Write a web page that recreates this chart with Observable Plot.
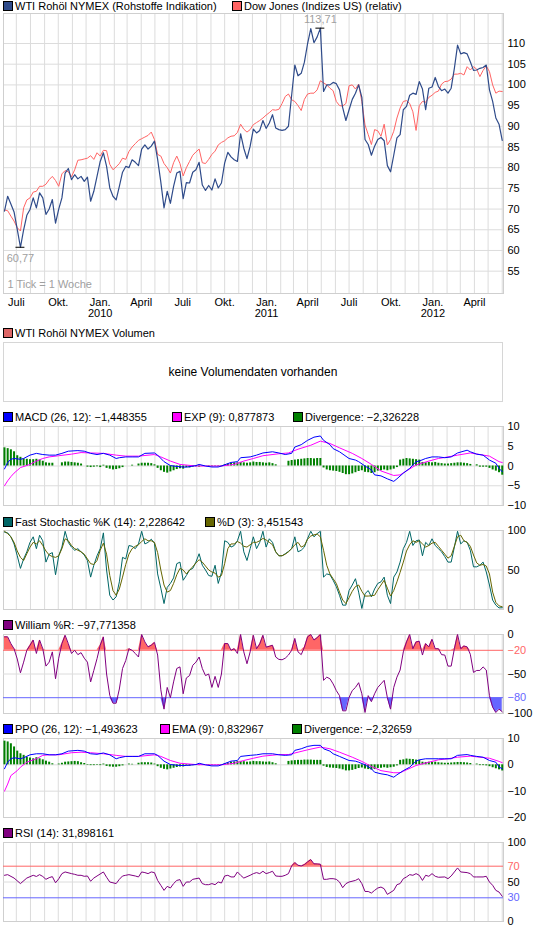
<!DOCTYPE html>
<html><head><meta charset="utf-8">
<script src="https://cdn.jsdelivr.net/npm/d3@7"></script>
<script src="https://cdn.jsdelivr.net/npm/@observablehq/plot@0.6"></script>
<style>
html,body{margin:0;padding:0;background:#fff;font-family:"Liberation Sans",Arial,sans-serif;}
#wrap{position:relative;width:545px;height:930px;overflow:hidden;background:#fff;}
.lg{position:absolute;font-size:11px;line-height:12px;white-space:nowrap;color:#000;}
.sq{position:absolute;width:8px;height:8px;border:1px solid #000;}
svg{overflow:visible}
</style></head><body><div id="wrap"></div>
<script>
// ---------- DATA (weekly, first week = 2009-06-05) ----------
const wti = [
69.5,73.1,71.2,69.3,65.1,60.77,65.0,68.5,69.9,72.7,
70.3,73.9,72.7,68.7,70.0,72.3,66.6,70.0,72.7,78.7,
79.8,77.1,78.3,77.3,77.9,76.7,77.7,71.9,74.3,77.9,
81.5,83.6,80.3,75.1,73.1,72.2,75.5,78.9,80.3,80.0,
81.9,81.3,80.5,84.5,85.5,84.5,85.2,86.4,82.0,76.5,
70.3,74.3,71.4,75.5,78.7,79.1,72.5,76.4,76.3,78.9,
79.5,81.3,75.8,74.5,75.7,74.6,77.3,75.1,76.3,81.1,
83.7,82.6,81.9,81.5,88.2,84.7,82.2,85.2,89.3,88.4,
89.0,91.4,89.5,90.8,92.8,89.6,89.2,89.0,89.2,90.0,
97.5,104.8,102.2,102.8,105.5,110.0,113.6,110.2,111.6,113.71,
98.4,100.0,100.0,100.6,100.3,98.8,94.5,91.4,94.0,96.5,
98.0,100.0,97.0,86.8,85.6,83.0,85.2,86.8,87.3,86.5,
80.5,79.0,83.0,87.2,88.0,94.0,94.8,97.5,98.0,97.7,
100.8,99.0,94.0,99.2,99.5,101.8,99.6,98.6,99.0,98.0,
99.2,104.0,109.6,107.5,107.8,107.5,105.6,103.5,103.6,104.0,
104.2,104.8,98.8,96.0,92.0,90.5,86.6];
const dow = [
69.8,69.6,68.3,67.1,65.5,64.7,70.3,72.2,72.7,74.1,
74.3,75.5,75.5,76.0,77.1,77.9,76.9,75.5,78.5,79.3,
79.0,77.8,79.5,81.8,81.9,82.1,82.3,82.9,82.0,83.6,
82.8,84.2,84.1,80.8,79.5,80.2,81.0,82.3,82.0,83.9,
85.0,85.8,86.6,87.0,87.4,87.8,88.6,86.8,83.2,82.8,
81.0,80.0,78.7,81.2,82.8,81.0,78.0,80.0,81.5,83.0,
83.8,84.5,81.2,81.0,82.0,83.2,84.0,85.5,86.1,86.5,
87.2,87.6,87.7,88.5,90.5,89.3,88.6,89.2,90.4,90.9,
91.4,92.0,92.7,93.3,94.0,93.9,94.1,95.5,97.2,97.8,
96.4,96.0,95.0,93.8,96.5,97.8,98.0,98.0,98.8,101.0,
100.5,100.0,99.2,98.6,96.0,95.0,94.9,95.5,99.8,100.0,
99.0,100.2,96.0,90.3,88.0,85.6,89.2,88.9,87.6,90.5,
85.5,86.8,88.8,92.0,94.4,96.0,96.2,95.5,93.5,89.0,
95.0,96.0,95.8,97.0,97.5,98.2,98.5,100.2,100.8,100.9,
101.4,102.6,102.6,102.8,102.4,104.4,103.6,104.4,103.8,102.0,
103.5,104.6,103.2,100.0,98.0,98.5,98.4];

// MACD line and EXP(9) signal: vertices (week index, value)
const macdW = [0,1,2,3,5,6,8,10,12,14,16,18,20,23,25,27,29,31,33,35,36,38,40,42,44,47,48,50,52,53,55,57,60,61,63,65,67,68,71,73,74,77,79,81,84,86,88,90,91,93,95,97,99,100,102,103,105,108,110,111,113,115,116,118,120,122,123,125,127,129,130,132,134,136,138,140,142,145,146,148,150,152,154,155,156];
const macdV = [-0.75,0.9,1.7,1.9,1.7,1.9,2.75,3.2,2.9,2.75,2.75,3.2,3.75,3.9,3.75,3.2,2.9,3.2,2.75,1.9,2.1,2.3,2.3,2.3,3.2,3.3,2.75,1.1,0.1,0,-0.2,-0.3,0.1,0.4,0,-0.25,-0.25,0,0.9,1.1,2.1,2.3,2.75,3.3,3.6,3.3,2.9,3.2,4.8,5.4,6.5,7.3,7.6,6.5,5.4,4.4,3.6,1.9,1.5,1.1,0,-1.0,-2.25,-2.5,-3.25,-3.9,-3.25,-1.8,-0.6,1.1,1.25,1.9,2.3,2.3,2.1,2.3,3.3,4.0,3.6,3.0,2.75,1.5,0.7,-0.6,-1.45];
const expW = [0,1,2,3,5,8,10,12,14,17,21,24,27,31,35,38,42,47,49,52,55,60,64,68,72,75,78,81,86,89,92,96,99,102,105,109,112,115,118,122,124,126,129,133,136,139,142,146,149,152,155,156];
const expV = [-5.0,-3.75,-2.7,-1.8,-0.4,0.4,1.25,1.9,2.3,2.6,3.0,3.4,3.3,3.2,2.75,2.5,2.5,2.9,2.3,1.25,0.4,0,0,0,0.4,1.25,1.9,2.6,3.1,3.3,4.25,5.25,6.3,5.7,4.6,3.2,1.9,0.4,-1.25,-2.4,-2.25,-1.25,0.25,1.25,1.9,2.3,2.75,3.3,2.9,2.5,1.1,0.88];
const macdDiv = [
4.6,4.4,4.1,3.6,2.6,2.2,1.8,1.7,1.6,1.6,
1.7,1.5,1.2,0.8,0.7,0.7,0,0,0.8,1.0,
1.0,0.9,0.8,0.7,0.5,0,-0.3,-0.4,-0.3,-0.2,
-0.4,0.2,-0.6,-0.8,-1.0,-0.9,-0.7,-0.4,0,0,
0.2,0,0.5,0.7,0.7,0.7,0.6,0.3,-0.6,-1.2,
-1.6,-1.8,-1.5,-1.2,-0.9,-0.7,-0.8,-0.4,-0.5,-0.3,
-0.2,-0.3,-0.1,0,-0.2,-0.2,-0.1,-0.2,-0.2,0.3,
0.5,0.7,0.8,0.8,0.9,0.8,0.7,0.8,1.0,0.9,
0.9,0.8,0.7,0.8,0.6,0.3,0,0,0,1.2,
1.4,1.5,1.6,1.7,1.8,1.9,1.9,1.8,1.9,1.9,
-0.5,-1.0,-1.2,-1.3,-1.4,-1.6,-1.9,-2.2,-2.2,-2.0,
-1.7,-1.4,-1.2,-1.6,-1.7,-1.9,-1.7,-1.3,-1.2,-1.0,
-1.2,-1.0,-0.8,-0.4,1.5,1.7,1.9,1.8,1.7,1.6,
1.5,0.9,0.8,0.9,0.8,0.9,0.7,0.6,0.5,0.5,
0.6,0.7,0.8,0.8,0.7,0.6,0.4,0,0.3,-0.3,
-0.3,-0.3,-0.6,-1.0,-1.3,-1.7,-2.33];

// Fast Stochastic %K(14) and %D(3), weekly
const stochK = [
98,97,92,83,68,52,64,73,85,92,
77,94,87,60,70,72,44,68,79,99,
85,79,75,77,73,69,62,41,56,68,
77,97,50,18,12,16,35,66,64,81,
80,77,83,99,83,85,89,84,45,27,
7.5,28,33,40,58,60,37,43,50,52,
60,70.6,56,50,43,42,56,33,47,87,
85,79,81,87,99,73,62,77,92,77,
85,99,79,89.5,85,73,68,68,70.6,73.5,
77,92,73,75,79,90,99,92,96,99,
41,45,44,37,29,18,5.5,5.5,24,31,
39,22,1.3,20,24,16,26,33,35,41,
18,7.5,41,47.5,60,77,85,99,81,87,
88,68,85,81,89.5,81,77,73,67,60,
60,79,99,83,87,85,75,54,54,56,
60,47.5,31,12,5.5,2,2.23];
const stochD = [
99,96,92,85,74,66,62,70.6,79,85,
83,87,81,74,69,67,66,68,77,89.5,
87,81,77,75,73,70,64,58,57,62,
75,84,70,43,24,18,26,41,57,70,
77,80,82,86,89.5,87,87,85,72,50,
31,22,24,33,44,52,50,45,50,54,
59,63,60,55,50,47.5,46,41,43,58,
77,83,83,86,84,80,79,82,85,85,
87,90,88,85,82,73,68,68,70,73,
77,82,85,79,81,89,93,94.5,95.5,92,
75,56,45,39,33,22,12,7.5,15,23,
29,31,23,17,17,17.5,18,25,31,37,
27,17,24,35,47,60,74,82,87,85,
87,83,79,81,84,85,80,75,70,65,
68,80,92,94,87,85,80,69,59,56,
57,55,45,22,9,4.6,3.45];

// William %R, weekly
const willR = [
-3,-3,-11.5,-18,-31,-48.5,-35,-20,-13.6,-7,
-24,-7,-18,-40,-35,-22,-56,-30,-11.5,-1,
-11.5,-24,-20,-25.5,-23,-30,-35,-60,-45.5,-30.6,
-13.6,-3,-50,-77,-87,-87,-69,-43,-33,-18,
-20,-24,-28.5,0,-9.4,-15.7,-13.6,-10,-26,-70,
-94.5,-67,-80,-60,-43,-41,-75,-55,-52,-39,
-35,-28.5,-43,-52,-50,-67,-53,-67,-50,-11.5,
-11.5,-20,-18,-24,0,-22,-37,-22,-1,-18,
-12,-1,-16,-15,-13.6,-28.5,-31.5,-32,-30,-26,
-20,-5,-22,-25.5,-16,-3,0,-7,-4,0,
-58,-54,-56,-62.5,-71,-77.4,-96.6,-96.6,-79.6,-71,
-67,-61,-75,-98.7,-77.4,-85,-75,-67,-62.5,-58,
-80,-94.5,-67,-54,-45,-22,-9.4,0,-18,-9.4,
-8.5,-26,-11.5,-15.7,-6,-18,-18,-25.5,-26,-40,
-40,-18,0,-18,-14.5,-15.7,-25,-48,-45.5,-45.5,
-41,-45,-77.4,-92,-98.7,-94.5,-97.77];

// PPO line and EMA(9): vertices (week index, value)
const ppoW = [0,1,2,3,5,6,8,10,12,14,16,18,20,23,25,27,29,31,33,35,36,38,40,42,44,47,48,50,52,53,55,57,60,61,63,65,67,68,71,73,74,77,79,81,84,86,88,90,91,93,95,97,99,100,102,103,105,108,110,111,113,115,116,118,120,122,123,125,127,129,130,132,134,136,138,140,142,145,146,148,150,152,154,155,156];
const ppoV = [-1.5,1.0,2.3,2.7,2.3,2.7,3.8,4.2,4.2,3.8,3.8,4.2,5.2,5.5,5.2,4.2,4.0,4.5,3.8,2.3,2.7,3.2,3.2,3.2,4.2,4.2,3.6,1.4,0.1,0,-0.25,-0.25,0.1,0.6,0,-0.4,-0.4,0,1.4,1.65,3.2,3.6,3.8,4.2,4.2,3.8,3.6,3.8,5.5,6.1,7.0,7.4,7.4,6.1,5.2,4.2,3.2,1.65,1.4,1.0,0,-1.5,-2.8,-3.4,-3.8,-4.7,-3.8,-2.2,-0.9,1.4,1.9,2.3,2.3,2.3,2.3,2.3,3.6,3.9,3.6,3.2,2.9,1.65,1.0,-0.8,-1.49];
const emaW = [0,1,2,4,5,7,10,12,14,17,21,24,27,31,35,38,42,47,49,52,55,60,64,68,72,75,78,81,86,89,92,95,99,102,105,109,112,115,118,122,124,126,129,133,136,139,142,146,149,152,155,156];
const emaV = [-10,-7.3,-4.1,-2.2,-0.9,1.0,2.3,3.6,3.8,3.8,4.6,4.8,4.6,4.2,3.6,3.2,3.2,3.8,3.2,1.65,0.6,0.1,0,0,0.6,1.65,2.5,3.3,3.9,3.9,4.8,5.7,6.75,6.1,4.8,2.9,1.3,-0.6,-2.2,-3.0,-3.0,-1.9,-0.25,1.0,1.9,2.3,2.9,3.3,2.9,2.5,1.3,0.83];
const ppoDiv = [
9.0,8.7,8.0,6.8,5.2,4.2,3.6,2.9,2.6,2.3,
2.7,2.3,1.9,1.4,1.0,0.4,0,0.3,0.6,1.0,
1.1,1.2,1.3,1.2,0.8,0.5,-0.2,-0.3,-0.3,-0.2,
-0.3,0.3,-0.6,-0.8,-0.9,-0.9,-0.7,-0.4,0,0.3,
0.2,0,0.6,0.8,0.8,0.8,0.7,0.3,-0.7,-1.3,
-1.7,-1.9,-1.6,-1.3,-1.0,-0.8,-0.8,-0.4,-0.5,-0.3,
-0.2,-0.3,-0.1,0,-0.2,-0.2,-0.1,-0.2,-0.2,0.4,
0.7,1.0,1.1,1.2,1.3,1.2,1.0,1.1,1.3,1.2,
1.2,1.1,1.0,1.1,0.8,0.4,0,0,0,1.3,
1.5,1.6,1.7,1.7,1.8,1.8,1.8,1.7,1.7,1.7,
-0.5,-1.0,-1.2,-1.3,-1.4,-1.6,-1.9,-2.3,-2.3,-2.1,
-1.8,-1.4,-1.2,-1.6,-1.8,-2.0,-1.8,-1.4,-1.3,-1.1,
-1.3,-1.1,-0.9,-0.4,1.7,1.9,2.2,2.1,2.0,1.8,
1.7,1.0,0.9,1.0,0.9,1.0,0.8,0.7,0.6,0.6,
0.7,0.8,0.9,0.9,0.8,0.7,0.5,0,0.3,-0.3,
-0.3,-0.4,-0.7,-1.1,-1.5,-1.9,-2.33];

// RSI(14): vertices (week index, value)
const rsiW = [0,1,3,5,7,9,10,11,12,13,14,15,16,17,18,19,21,22,23,24,25,26,27,28,29,31,32,33,35,36,37,38,39,41,42,43,44,45,46,47,48,49,50,51,52,53,54,55,56,57,58,59,61,62,63,64,65,66,67,68,69,70,71,72,73,74,75,77,78,79,80,81,82,83,84,85,86,87,88,89,90,91,92,93,94,95,96,97,98,99,100,101,102,103,104,105,106,107,108,110,111,112,113,114,115,116,117,118,119,120,122,123,124,125,126,127,128,129,130,131,132,133,134,135,136,138,139,140,141,142,143,145,146,147,148,150,151,152,153,154,155,156];
const rsiV = [58.5,59.3,55,48,55,58.5,57,59.3,57,53.4,55.5,56.8,49,54,60.6,62.7,60.6,59.7,58.5,58.5,57.2,57.6,51,55,57.6,62.7,56,50,48,53.4,57.6,58.5,59.3,57.6,56.4,62.7,61.9,60.6,62.7,61.9,52,45.8,39.4,44.5,42.4,48,52,53,44.5,50,50,53.4,55,48,46.6,46.6,48,46.6,50,48.7,57.6,58.5,56.4,56.4,62.7,58.5,55,58.5,60.6,61.9,60.6,63.6,60.6,61.9,63.6,57.6,57.2,57.2,58.5,60.6,70.3,74.6,71.2,70.3,72,75.4,78.4,73,72.9,72.5,53.4,53.4,54.2,54.2,53.4,50,42.8,47.9,50,52,54.2,48,38,38,36,39.4,42.4,43.6,41.5,34.3,39.4,46.6,48,54.2,56.4,59.3,58.5,60.6,58.5,52,58.5,57.2,60.6,57.2,56,56.4,54.2,57.6,62.7,67.8,62.7,61.9,60.6,56.4,56.4,56.4,57.2,50,45.8,39.4,37.3,31.9];

// Axis ticks / labels
const priceTicks = [55,60,65,70,75,80,85,90,95,100,105,110];
const quarterDates = ["2009-07-01","2009-10-01","2010-01-01","2010-04-01","2010-07-01","2010-10-01","2011-01-01","2011-04-01","2011-07-01","2011-10-01","2012-01-01","2012-04-01"];
const quarterLabels = ["Juli","Okt.","Jan.\n2010","April","Juli","Okt.","Jan.\n2011","April","Juli","Okt.","Jan.\n2012","April"];
const macdTicks = [10,5,0,-5,-10];
const stochTicks = [100,50,0];
const willTicks = [0,-20,-50,-80,-100];
const ppoTicks = [10,0,-10,-20];
const rsiTicks = [100,70,50,30,0];

// ---------- helpers ----------
const START = Date.UTC(2009,5,5);
const wk = w => new Date(START + w*7*864e5);
const xDomain = [wk(-0.31), wk(156.4)];
const months = d3.utcMonth.range(new Date(Date.UTC(2009,6,1)), new Date(Date.UTC(2012,5,2)));
const GRID = "#dcdcdc", FRAME = "#cfcfcf";
const FONT = "Liberation Sans, Arial, sans-serif";
const RED = "#ff6666", BLUE = "#6666ff";
const fmt = d => d < 0 ? "\u2212" + Math.abs(d) : String(d);
const wrap = document.getElementById("wrap");

const weekly = (arr) => arr.map((v,i)=>({date: wk(i), v}));
const pairs = (W,V) => W.map((w,i)=>({date: wk(w), v: V[i]}));

function legend(cy, items){
  for (const it of items){
    const s = document.createElement("div");
    s.className = "sq"; s.style.left = it.x+"px"; s.style.top = (cy-5)+"px"; s.style.background = it.color;
    wrap.append(s);
    const t = document.createElement("div");
    t.className = "lg"; t.style.left = (it.x+12)+"px"; t.style.top = (cy-6.5)+"px"; t.textContent = it.label;
    wrap.append(t);
  }
}

function yLabels(ticks, colorOf){
  return Plot.text(ticks, {y: d=>d, frameAnchor:"right", textAnchor:"start", dx:4, text: fmt,
    fill: colorOf || "#000", fontSize: 11});
}

function panel(top, frameH, yDomain, marks, mb=8){
  const svg = Plot.plot({
    width:545, height:1+frameH+mb, marginTop:1, marginBottom:mb, marginLeft:3, marginRight:42,
    x:{type:"utc", domain:xDomain, axis:null},
    y:{domain:yDomain, axis:null},
    style:{fontFamily:FONT, fontSize:"11px", background:"transparent", overflow:"visible"},
    marks:[Plot.ruleX(months,{stroke:GRID}), Plot.frame({stroke:FRAME}), ...marks]
  });
  svg.style.position="absolute"; svg.style.left="0px"; svg.style.top=(top-1)+"px";
  wrap.append(svg);
}

// ---------- price panel ----------
legend(6, [
  {x:3, color:"#2f4b8a", label:"WTI Rohöl NYMEX (Rohstoffe Indikation)"},
  {x:232, color:"#ff6464", label:"Dow Jones (Indizes US) (relativ)"}
]);
const priceRows = wti.map((v,i)=>({date: wk(i), wti: v, dow: dow[i]}));
const iMax = d3.maxIndex(wti), iMin = d3.minIndex(wti);
const comma = v => v.toFixed(2).replace(".", ",");
panel(13, 280, [49.6, 117.25], [
  Plot.ruleY(priceTicks, {stroke:GRID}),
  Plot.frame({stroke:FRAME}),
  yLabels(priceTicks),
  Plot.text(quarterDates, {x: d=>new Date(d+"T00:00:00Z"), text: (d,i)=>quarterLabels[i], frameAnchor:"bottom",
    lineAnchor:"top", dy:4, lineHeight:1.05, fontSize:11, fill:"#000"}),
  Plot.text(["1 Tick = 1 Woche"], {text:d=>d, frameAnchor:"bottom-left", textAnchor:"start", dx:4, dy:-6, fill:"#a0a0a0", fontSize:11}),
  Plot.line(priceRows, {x:"date", y:"dow", stroke:"#ff6464", strokeWidth:1}),
  Plot.line(priceRows, {x:"date", y:"wti", stroke:"#2f4b8a", strokeWidth:1.2}),
  Plot.ruleY([wti[iMax]], {x1: wk(iMax-1.4), x2: wk(iMax+1.4), stroke:"#000"}),
  Plot.ruleY([wti[iMin]], {x1: wk(iMin-1.4), x2: wk(iMin+1.4), stroke:"#000"}),
  Plot.text([iMax], {x: i=>wk(i), y: i=>wti[i], text: i=>comma(wti[i]), dy:-9, fill:"#a0a0a0", fontSize:11}),
  Plot.text([iMin], {x: i=>wk(i), y: i=>wti[i], text: i=>comma(wti[i]), dy:11, fill:"#a0a0a0", fontSize:11})
], 33);

// ---------- volume panel ----------
legend(333, [{x:3, color:"#dd6666", label:"WTI Rohöl NYMEX Volumen"}]);
const vol = document.createElement("div");
vol.style.cssText = "position:absolute;left:3px;top:342px;width:498px;height:58px;border:1px solid #d6d6d6;font-size:12px;line-height:58px;text-align:center;color:#000;";
vol.textContent = "keine Volumendaten vorhanden";
wrap.append(vol);

// ---------- MACD ----------
legend(417, [
  {x:3, color:"#0000ff", label:"MACD (26, 12): \u22121,448355"},
  {x:172, color:"#ff00ff", label:"EXP (9): 0,877873"},
  {x:293, color:"#008000", label:"Divergence: \u22122,326228"}
]);
panel(426, 79, [-10, 10], [
  Plot.ruleY([5,0,-5], {stroke:GRID}),
  yLabels(macdTicks),
  Plot.ruleX(weekly(macdDiv), {x:"date", y1:0, y2:"v", stroke:"#008000", strokeWidth:2}),
  Plot.line(pairs(expW, expV), {x:"date", y:"v", stroke:"#ff00ff", strokeWidth:1}),
  Plot.line(pairs(macdW, macdV), {x:"date", y:"v", stroke:"#0000ff", strokeWidth:1})
]);

// ---------- Fast Stochastic ----------
legend(522, [
  {x:3, color:"#006666", label:"Fast Stochastic %K (14): 2,228642"},
  {x:205, color:"#666600", label:"%D (3): 3,451543"}
]);
panel(530, 79, [0, 100], [
  Plot.ruleY([50], {stroke:GRID}),
  yLabels(stochTicks),
  Plot.line(weekly(stochK), {x:"date", y:"v", stroke:"#006666", strokeWidth:1}),
  Plot.line(weekly(stochD), {x:"date", y:"v", stroke:"#666600", strokeWidth:1})
]);

// ---------- William %R ----------
legend(625, [{x:3, color:"#800080", label:"William %R: \u221297,771358"}]);
const wr = weekly(willR);
panel(634, 79, [-100, 0], [
  Plot.ruleY([-50], {stroke:GRID}),
  Plot.areaY(wr, {x:"date", y1:-20, y2: d=>Math.max(d.v,-20), fill:RED}),
  Plot.areaY(wr, {x:"date", y1:-80, y2: d=>Math.min(d.v,-80), fill:BLUE}),
  Plot.ruleY([-20], {stroke:RED}),
  Plot.ruleY([-80], {stroke:BLUE}),
  yLabels(willTicks, d => d===-20 ? RED : d===-80 ? BLUE : "#000"),
  Plot.line(wr, {x:"date", y:"v", stroke:"#800080", strokeWidth:1})
]);

// ---------- PPO ----------
legend(729, [
  {x:3, color:"#0000ff", label:"PPO (26, 12): \u22121,493623"},
  {x:160, color:"#ff00ff", label:"EMA (9): 0,832967"},
  {x:292, color:"#008000", label:"Divergence: \u22122,32659"}
]);
panel(738, 79, [-20, 10], [
  Plot.ruleY([0,-10], {stroke:GRID}),
  yLabels(ppoTicks),
  Plot.ruleX(weekly(ppoDiv), {x:"date", y1:0, y2:"v", stroke:"#008000", strokeWidth:2}),
  Plot.line(pairs(emaW, emaV), {x:"date", y:"v", stroke:"#ff00ff", strokeWidth:1}),
  Plot.line(pairs(ppoW, ppoV), {x:"date", y:"v", stroke:"#0000ff", strokeWidth:1})
]);

// ---------- RSI ----------
legend(833, [{x:3, color:"#800080", label:"RSI (14): 31,898161"}]);
const rsi = pairs(rsiW, rsiV);
panel(842, 79, [0, 100], [
  Plot.ruleY([50], {stroke:GRID}),
  Plot.areaY(rsi, {x:"date", y1:70, y2: d=>Math.max(d.v,70), fill:RED}),
  Plot.ruleY([70], {stroke:RED}),
  Plot.ruleY([30], {stroke:BLUE}),
  yLabels(rsiTicks, d => d===70 ? RED : d===30 ? BLUE : "#000"),
  Plot.line(rsi, {x:"date", y:"v", stroke:"#800080", strokeWidth:1})
]);
</script></body></html>
